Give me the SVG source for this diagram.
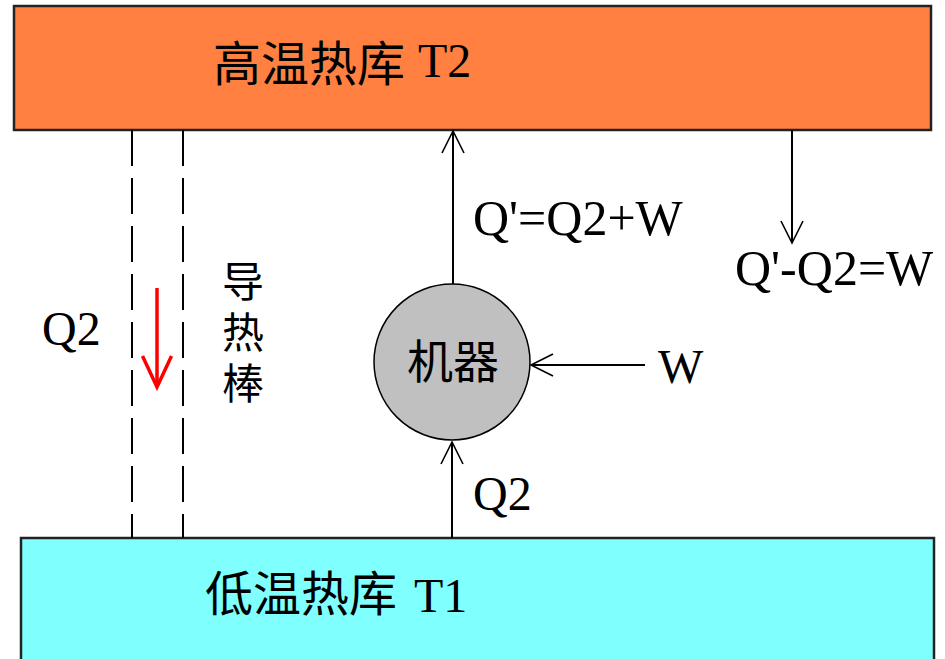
<svg xmlns="http://www.w3.org/2000/svg" width="945" height="659" viewBox="0 0 945 659">
<style>
.lat{font-family:"Liberation Serif","Times New Roman",serif;font-size:48px;fill:#000}
.big{font-size:50px}
.cjk{font-family:"Noto Sans CJK SC","Noto Sans CJK JP",sans-serif;fill:#000}
.vert{writing-mode:vertical-rl;letter-spacing:9px;font-size:42px}
.ln{stroke:#000;stroke-width:2;fill:none}
.dash{stroke:#000;stroke-width:2;stroke-dasharray:36 12;fill:none}
</style>
<defs>
<marker id="ah" markerUnits="userSpaceOnUse" markerWidth="30" markerHeight="30" viewBox="-26 -15 30 30" refX="0" refY="0" orient="auto">
<path d="M -22 -11 L 0 0 L -22 11" fill="none" stroke="#000" stroke-width="1.6"/>
</marker>
<marker id="ahr" markerUnits="userSpaceOnUse" markerWidth="40" markerHeight="40" viewBox="-36 -20 40 40" refX="0" refY="0" orient="auto">
<path d="M -31 -14.5 L 0 0 L -31 14.5" fill="none" stroke="#ff0000" stroke-width="3.5"/>
</marker>
</defs>
<rect width="945" height="659" fill="#fff"/>
<g id="hot">
<rect x="14" y="6" width="917" height="124" fill="#ff8040" stroke="#222" stroke-width="2.5"/>
<text class="cjk" font-size="48" x="213" y="81">高温热库</text>
<text class="lat" x="418" y="77">T2</text>
</g>
<g id="cold">
<rect x="21" y="538" width="913" height="125" fill="#80ffff" stroke="#222" stroke-width="2.5"/>
<text class="cjk" font-size="48" x="205" y="611">低温热库</text>
<text class="lat" x="414" y="612">T1</text>
</g>
<g id="rod">
<line class="dash" x1="132" y1="130" x2="132" y2="538"/>
<line class="dash" x1="183" y1="130" x2="183" y2="538"/>
<text class="cjk vert" x="243" y="260">导热棒</text>
<text class="lat" x="42" y="345">Q2</text>
</g>
<g id="machine">
<circle cx="452" cy="362" r="78" fill="#c0c0c0" stroke="#000" stroke-width="1.5"/>
<text class="cjk" font-size="46" text-anchor="middle" x="453" y="378">机器</text>
</g>
<g id="connectors">
<line class="ln" x1="453" y1="284" x2="453" y2="131" marker-end="url(#ah)"/>
<line class="ln" x1="452" y1="538" x2="452" y2="442" marker-end="url(#ah)"/>
<line class="ln" x1="645" y1="365" x2="531" y2="365" marker-end="url(#ah)"/>
<line class="ln" x1="792" y1="130" x2="792" y2="243" marker-end="url(#ah)"/>
<line x1="157" y1="288" x2="157" y2="387" stroke="#ff0000" stroke-width="3.5" marker-end="url(#ahr)"/>
</g>
<g id="labels">
<text class="lat big" x="473" y="235">Q'=Q2+W</text>
<text class="lat big" x="735" y="285">Q'-Q2=W</text>
<text class="lat" x="473" y="510">Q2</text>
<text class="lat" x="658" y="383">W</text>
</g>
</svg>
